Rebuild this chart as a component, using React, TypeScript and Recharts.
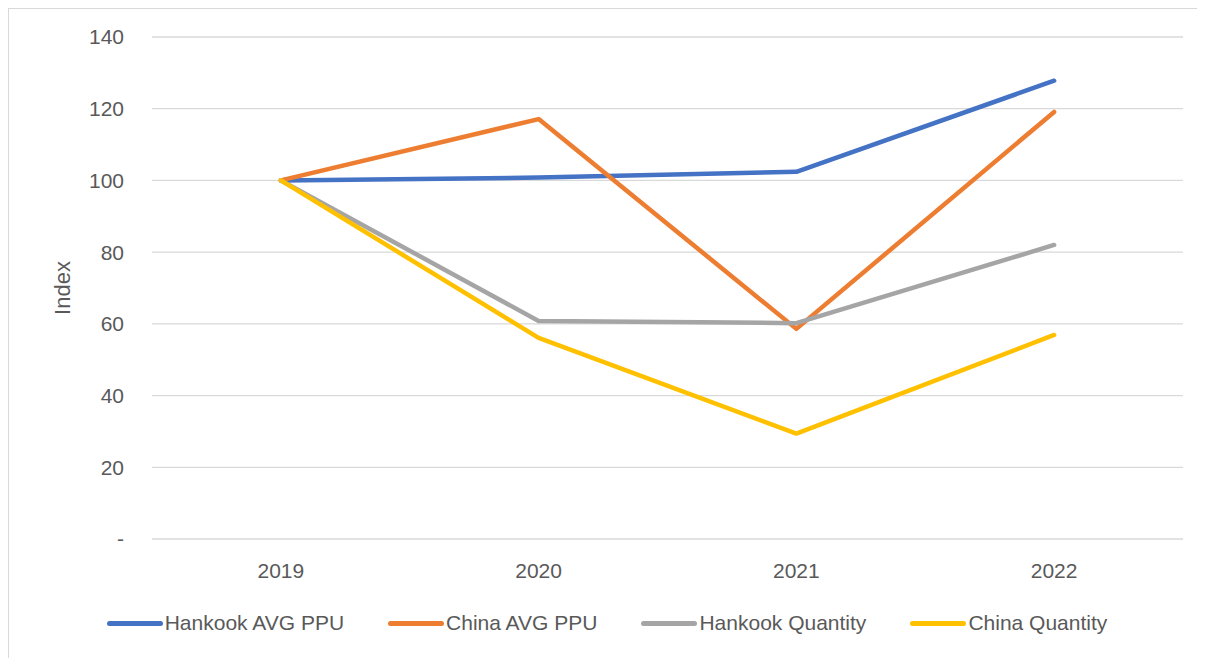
import { LineChart, Line, XAxis, YAxis, CartesianGrid } from "recharts";

const years = ["2019", "2020", "2021", "2022"];
const hankookPpu = [100, 100.8, 102.4, 127.8];
const chinaPpu = [100, 117.1, 58.6, 119.1];
const hankookQty = [100, 60.8, 60.2, 82.0];
const chinaQty = [100, 56.1, 29.4, 56.9];
const yTicks = [0, 20, 40, 60, 80, 100, 120, 140];

const series = [
  { key: "Hankook AVG PPU", values: hankookPpu, color: "#4472C4" },
  { key: "China AVG PPU", values: chinaPpu, color: "#ED7D31" },
  { key: "Hankook Quantity", values: hankookQty, color: "#A5A5A5" },
  { key: "China Quantity", values: chinaQty, color: "#FFC000" },
];

const data = years.map((year, i) => {
  const row: Record<string, string | number> = { year };
  series.forEach((s) => {
    row[s.key] = s.values[i];
  });
  return row;
});

const FONT = "'Liberation Sans', Arial, sans-serif";
const TEXT = "#595959";

const IndexLabel = (props: any) => {
  const vb = props.viewBox || {};
  const x = vb.x + 30;
  const y = vb.y + vb.height / 2;
  return (
    <text
      x={x}
      y={y}
      transform={`rotate(-90, ${x}, ${y})`}
      textAnchor="middle"
      dominantBaseline="central"
      fill={TEXT}
      fontSize={22}
      fontFamily={FONT}
    >
      Index
    </text>
  );
};

export default function App() {
  return (
    <div
      style={{
        position: "relative",
        width: 1196,
        height: 649,
        borderTop: "1px solid #d9d9d9",
        borderLeft: "1px solid #d9d9d9",
        background: "#fff",
        fontFamily: FONT,
      }}
    >
      <LineChart
        width={1196}
        height={649}
        data={data}
        margin={{ top: 28, right: 22, left: 23, bottom: 79 }}
      >
        <CartesianGrid vertical={false} stroke="#d9d9d9" strokeWidth={1.3} />
        <XAxis
          dataKey="year"
          scale="band"
          height={40}
          axisLine={false}
          tickLine={false}
          tickSize={0}
          tickMargin={24}
          tick={{ fill: TEXT, fontSize: 21, fontFamily: FONT }}
        />
        <YAxis
          width={120}
          domain={[0, 140]}
          ticks={yTicks}
          axisLine={false}
          tickLine={false}
          tickSize={0}
          tickMargin={28}
          tickFormatter={(v: number) => (v === 0 ? "-" : String(v))}
          tick={{ fill: TEXT, fontSize: 21, fontFamily: FONT }}
          label={<IndexLabel />}
        />
        {series.map((s) => (
          <Line
            key={s.key}
            type="linear"
            dataKey={s.key}
            stroke={s.color}
            strokeWidth={4.5}
            strokeLinecap="round"
            strokeLinejoin="round"
            dot={false}
            activeDot={false}
            isAnimationActive={false}
          />
        ))}
      </LineChart>
      <div
        style={{
          position: "absolute",
          left: 0,
          width: 1196,
          top: 600,
          height: 28,
          display: "flex",
          justifyContent: "center",
          alignItems: "center",
          gap: 44,
          fontSize: 21,
          color: TEXT,
        }}
      >
        {series.map((s) => (
          <div key={s.key} style={{ display: "flex", alignItems: "center" }}>
            <span
              style={{
                display: "inline-block",
                width: 56,
                height: 5,
                borderRadius: 3,
                background: s.color,
                marginRight: 2,
              }}
            />
            <span>{s.key}</span>
          </div>
        ))}
      </div>
    </div>
  );
}
